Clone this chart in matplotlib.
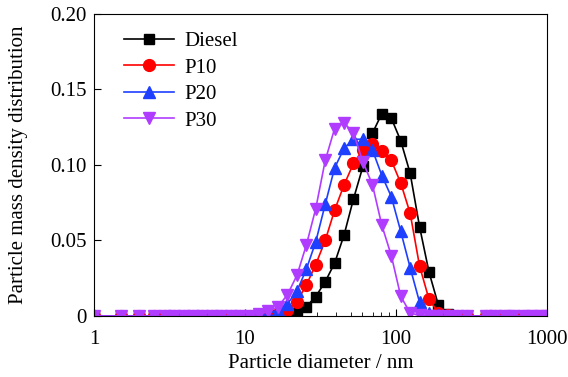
import matplotlib
matplotlib.use('Agg')
import matplotlib.pyplot as plt
from matplotlib.ticker import FixedLocator, NullFormatter

plt.rcParams['font.family'] = ['Liberation Serif', 'DejaVu Serif']

# particle diameter (nm)
diam = [1, 1.5, 2, 2.5, 2.94, 3.4, 3.92, 4.53, 5.23, 6.04, 6.98, 8.06, 9.31, 10.8,
        12.4, 14.3, 16.5, 19.1, 22.1, 25.5, 29.4, 34.0, 39.2, 45.3, 52.3, 60.4,
        69.8, 80.6, 93.1, 107.5, 124.1, 143.3, 165.5, 191.1, 220.7, 254.8, 294.3,
        392.4, 453.2, 523.3, 600, 700, 800, 900, 1000]

diesel = [0, 0, 0, 0, 0, 0, 0, 0, 0, 0, 0, 0, 0, 0,
          0, 0.0003, 0.0007, 0.0012, 0.002, 0.0062, 0.0128, 0.0227, 0.0349, 0.0536,
          0.0775, 0.099, 0.121, 0.134, 0.131, 0.116, 0.0945, 0.059, 0.029, 0.007,
          0.001, 0, 0,
          0, 0, 0, 0, 0, 0, 0, 0]
p10 = [0, 0, 0, 0, 0, 0, 0, 0, 0, 0, 0, 0, 0, 0,
       0.0002, 0.0006, 0.0015, 0.004, 0.0095, 0.0205, 0.034, 0.050, 0.070, 0.0868,
       0.101, 0.110, 0.114, 0.109, 0.103, 0.088, 0.068, 0.033, 0.011, 0.002,
       0.0003, 0, 0,
       0, 0, 0, 0, 0, 0, 0, 0]
p20 = [0, 0, 0, 0, 0, 0, 0, 0, 0, 0, 0, 0, 0, 0,
       0.0005, 0.0015, 0.004, 0.008, 0.0165, 0.031, 0.049, 0.074, 0.098, 0.111,
       0.117, 0.117, 0.110, 0.093, 0.079, 0.056, 0.032, 0.009, 0.002, 0.0003,
       0, 0, 0,
       0, 0, 0, 0, 0, 0, 0, 0]
p30 = [0, 0, 0, 0, 0, 0, 0, 0, 0, 0, 0, 0, 0, 0,
       0.001, 0.003, 0.006, 0.014, 0.027, 0.047, 0.071, 0.103, 0.124, 0.128,
       0.121, 0.102, 0.087, 0.060, 0.040, 0.013, 0.002, 0.0003, 0, 0,
       0, 0, 0,
       0, 0, 0, 0, 0, 0, 0, 0]

series = [('Diesel', diesel, 'black', 's', 7.5),
          ('P10', p10, '#ff0000', 'o', 8.5),
          ('P20', p20, '#1f3fff', '^', 9),
          ('P30', p30, '#b03cff', 'v', 9)]

yticks = [0, 0.05, 0.10, 0.15, 0.20]
ytick_labels = ['0', '0.05', '0.10', '0.15', '0.20']
xticks = [1, 10, 100, 1000]
xtick_labels = ['1', '10', '100', '1000']

fs = 15

fig = plt.figure(figsize=(5.68, 3.77), dpi=100)
ax = fig.add_axes([0.1655, 0.162, 0.7975, 0.801])

for name, vals, col, mk, ms in series:
    ax.plot(diam, vals, color=col, marker=mk, markersize=ms, linewidth=1.2, label=name)

ax.set_xscale('log')
ax.set_xlim(1, 1000)
ax.set_ylim(0, 0.20)
ax.set_xticks(xticks)
ax.set_xticklabels(xtick_labels)
ax.xaxis.set_minor_locator(FixedLocator([m * 10**e for e in range(0, 3) for m in range(2, 10)]))
ax.xaxis.set_minor_formatter(NullFormatter())
ax.set_yticks(yticks)
ax.set_yticklabels(ytick_labels)
ax.tick_params(axis='both', which='both', direction='in', labelsize=fs, top=False, right=False)
ax.tick_params(axis='both', which='major', length=5)
ax.tick_params(axis='x', which='minor', length=3)
ax.tick_params(axis='x', which='major', pad=10)
ax.tick_params(axis='y', which='major', pad=5)

ax.set_xlabel('Particle diameter / nm', fontsize=fs, labelpad=4)
ax.set_ylabel('Particle mass density distribution', fontsize=fs, labelpad=16)

ax.legend(loc='upper left', frameon=False, fontsize=fs, handlelength=2.4,
          handletextpad=0.5, borderaxespad=0.3, labelspacing=0.33,
          bbox_to_anchor=(0.035, 0.99))

fig.savefig('out.png', dpi=100)
